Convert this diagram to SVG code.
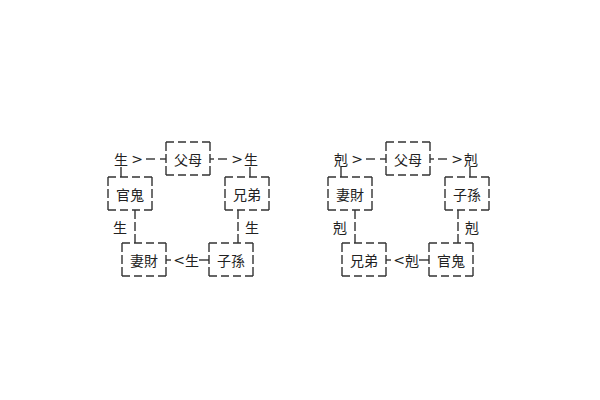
<svg xmlns="http://www.w3.org/2000/svg" width="600" height="400" viewBox="0 0 600 400">
<style>
.bg{fill:#fff}
.e{stroke:#333;stroke-width:1.4;fill:none}
.h{stroke-dasharray:8 4}
.v{stroke-dasharray:9 3}
.t{font-family:"Noto Sans CJK TC","Noto Sans CJK SC",sans-serif;font-size:14px;fill:#222;text-anchor:middle;dominant-baseline:central}
.s{font-family:"DejaVu Sans",sans-serif;font-size:14px;fill:#222;text-anchor:middle;dominant-baseline:central}
</style>
<defs>
<g id="box">
<line class="e h" x1="0" y1="0" x2="44" y2="0"/>
<line class="e h" x1="0" y1="33" x2="44" y2="33"/>
<line class="e v" x1="0" y1="0" x2="0" y2="33"/>
<line class="e v" x1="44" y1="0" x2="44" y2="33"/>
</g>
</defs>
<rect class="bg" x="0" y="0" width="600" height="400"/>

<g id="left-diagram">
<g id="L-fumu"><use href="#box" x="166" y="142"/><text class="t" x="188" y="159">父母</text></g>
<g id="L-guangui"><use href="#box" x="108" y="177"/><text class="t" x="130" y="193.5">官鬼</text></g>
<g id="L-xiongdi"><use href="#box" x="225" y="177"/><text class="t" x="247" y="193.5">兄弟</text></g>
<g id="L-qicai"><use href="#box" x="122" y="243"/><text class="t" x="144" y="260">妻財</text></g>
<g id="L-zisun"><use href="#box" x="209" y="243"/><text class="t" x="231" y="260">子孫</text></g>
<g id="L-connectors">
<text class="t" x="121" y="159">生</text>
<text class="s" x="137" y="159">&gt;</text>
<line class="e" x1="146" y1="159" x2="155" y2="159"/>
<line class="e" x1="160" y1="159" x2="166" y2="159"/>
<line class="e" x1="121" y1="167" x2="121" y2="177"/>
<line class="e" x1="210" y1="159" x2="214" y2="159"/>
<line class="e" x1="218" y1="159" x2="227" y2="159"/>
<text class="s" x="237" y="159">&gt;</text>
<text class="t" x="251" y="159">生</text>
<line class="e" x1="250" y1="167" x2="250" y2="177"/>
<line class="e v" x1="135" y1="210" x2="135" y2="243"/>
<text class="t" x="120" y="227">生</text>
<line class="e v" x1="238" y1="210" x2="238" y2="243"/>
<text class="t" x="252" y="227">生</text>
<line class="e" x1="166" y1="260" x2="171" y2="260"/>
<text class="s" x="179" y="260">&lt;</text>
<text class="t" x="192" y="260">生</text>
<line class="e" x1="199" y1="260" x2="209" y2="260"/>
</g>
</g>

<g id="right-diagram">
<g id="R-fumu"><use href="#box" x="386" y="142"/><text class="t" x="408" y="159">父母</text></g>
<g id="R-qicai"><use href="#box" x="328" y="177"/><text class="t" x="350" y="193.5">妻財</text></g>
<g id="R-zisun"><use href="#box" x="445" y="177"/><text class="t" x="467" y="193.5">子孫</text></g>
<g id="R-xiongdi"><use href="#box" x="342" y="243"/><text class="t" x="364" y="260">兄弟</text></g>
<g id="R-guangui"><use href="#box" x="429" y="243"/><text class="t" x="451" y="260">官鬼</text></g>
<g id="R-connectors">
<text class="t" x="341" y="159">剋</text>
<text class="s" x="357" y="159">&gt;</text>
<line class="e" x1="366" y1="159" x2="375" y2="159"/>
<line class="e" x1="380" y1="159" x2="386" y2="159"/>
<line class="e" x1="341" y1="167" x2="341" y2="177"/>
<line class="e" x1="430" y1="159" x2="434" y2="159"/>
<line class="e" x1="438" y1="159" x2="447" y2="159"/>
<text class="s" x="457" y="159">&gt;</text>
<text class="t" x="471" y="159">剋</text>
<line class="e" x1="470" y1="167" x2="470" y2="177"/>
<line class="e v" x1="355" y1="210" x2="355" y2="243"/>
<text class="t" x="340" y="227">剋</text>
<line class="e v" x1="458" y1="210" x2="458" y2="243"/>
<text class="t" x="472" y="227">剋</text>
<line class="e" x1="386" y1="260" x2="391" y2="260"/>
<text class="s" x="399" y="260">&lt;</text>
<text class="t" x="412" y="260">剋</text>
<line class="e" x1="419" y1="260" x2="429" y2="260"/>
</g>
</g>
</svg>
